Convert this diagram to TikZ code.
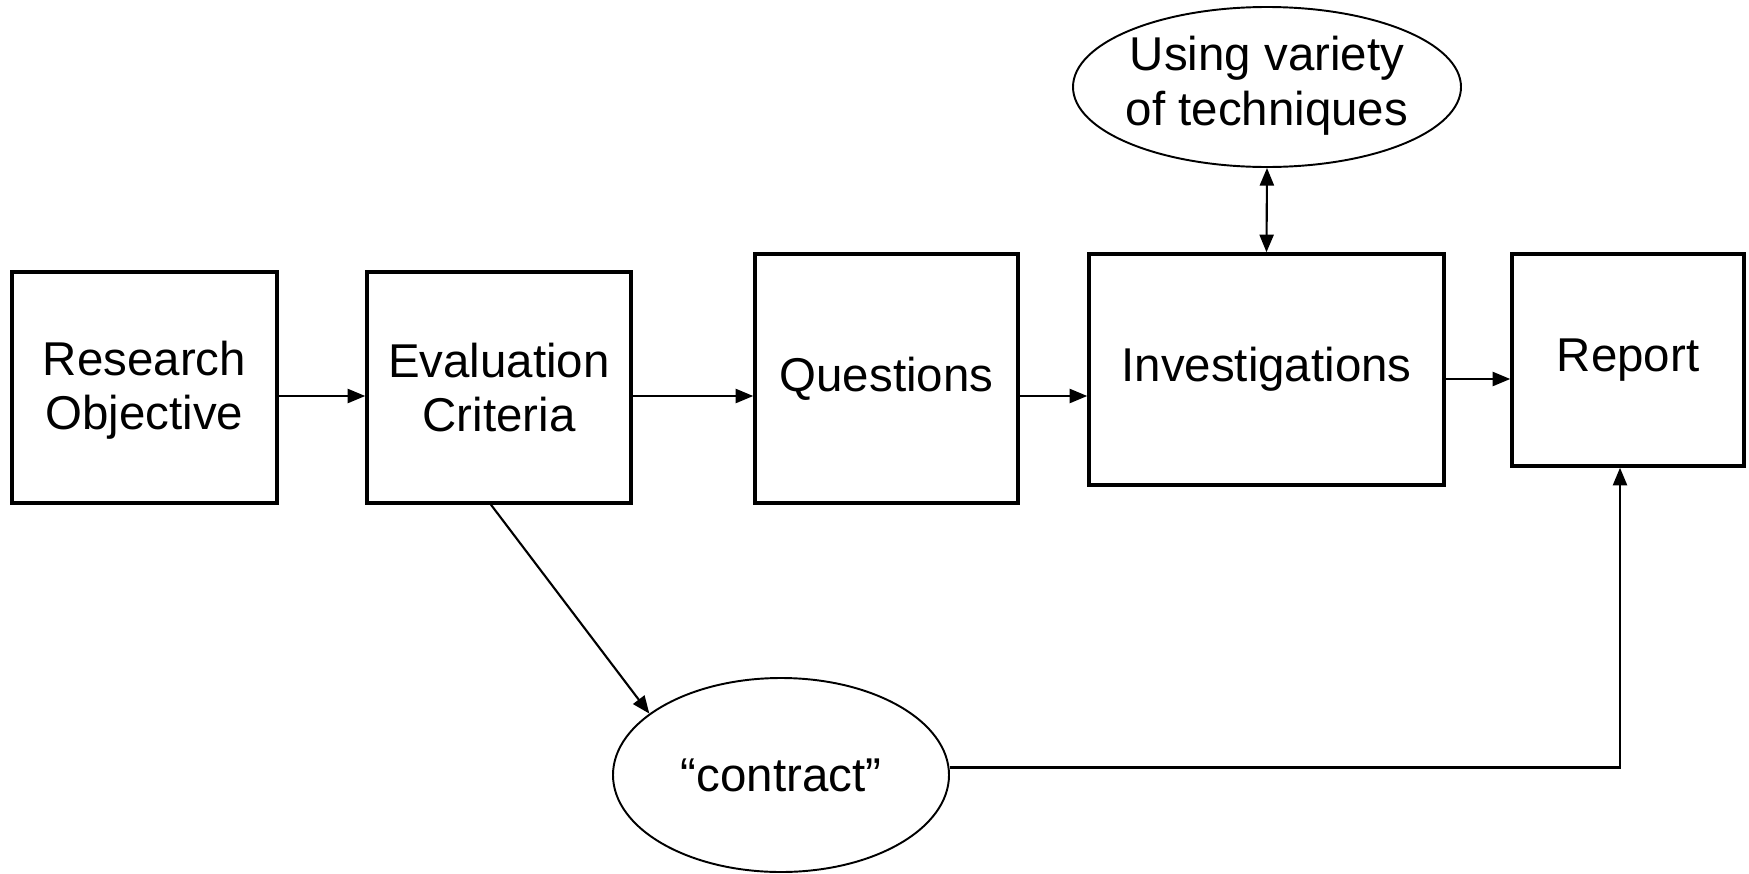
\documentclass[tikz,border=0pt]{standalone}
\usepackage{fontspec}
\setmainfont{Liberation Sans}
\usepackage{tikz}
\usetikzlibrary{arrows.meta, positioning, shapes.geometric}
\tikzset{
    stagebox/.style={
        rectangle,
        draw=black,
        line width=2pt,
        inner sep=0pt,
        align=center,
        font=\fontsize{27}{31}\selectfont % teks besar
    },
    ideaoval/.style={
        ellipse,
        draw=black,
        line width=1.1pt,
        inner sep=0pt,
        font=\fontsize{27}{31}\selectfont
    },
    flow/.style={-{Triangle[length=10pt, width=8pt]}, line width=1.2pt},
    twoway/.style={{Triangle[length=10pt, width=8pt]}-{Triangle[length=10pt, width=8pt]}, line width=1.2pt}
}

\begin{document}
\begin{tikzpicture}

    \useasboundingbox (0,0) rectangle (34.98,-17.46);

    \node[stagebox, minimum width=5.30cm, minimum height=4.62cm] (objective) at (2.89,-7.75) {\\[-0.3cm]Research\\Objective};
    \node[stagebox, minimum width=5.28cm, minimum height=4.62cm] (criteria) at (9.98,-7.75) {Evaluation\\Criteria};
    \node[stagebox, minimum width=5.26cm, minimum height=4.98cm] (questions) at (17.73,-7.57) {Questions};
    \node[stagebox, minimum width=7.10cm, minimum height=4.62cm] (investigations) at (25.33,-7.39) {Investigations};
    \node[stagebox, minimum width=4.64cm, minimum height=4.24cm] (report) at (32.56,-7.20) {Report};

    \node[ideaoval, minimum width=7.76cm, minimum height=3.2cm] (techniques) at (25.34,-1.74) {\makebox[0pt]{\raisebox{-0.1cm}{\begin{tabular}{@{}c@{}}Using variety\\of techniques\end{tabular}}}};
    \node[ideaoval, minimum width=6.72cm, minimum height=3.88cm] (contract) at (15.62,-15.50) {\makebox[0pt]{“contract”}};

    \draw[flow]
        ([yshift=-0.17cm]objective.east) -- ([yshift=-0.17cm]criteria.west);

    \draw[flow]
        ([yshift=-0.17cm]criteria.east) -- ([yshift=-0.17cm]criteria.east -| questions.west);

    \draw[flow]
        ([yshift=-0.35cm]questions.east) -- ([yshift=-0.35cm]questions.east -| investigations.west);

    \draw[flow]
        ([yshift=-0.19cm]investigations.east) -- ([yshift=-0.19cm]investigations.east -| report.west);

    \draw[twoway]
        (techniques.south) -- (investigations.north);

    \draw[flow]
        ([xshift=-0.16cm]criteria.south) -- (contract.155);

    \draw[flow]
        ([yshift=0.15cm]contract.east) -| ([xshift=-0.16cm]report.south);

\end{tikzpicture}
\end{document}
